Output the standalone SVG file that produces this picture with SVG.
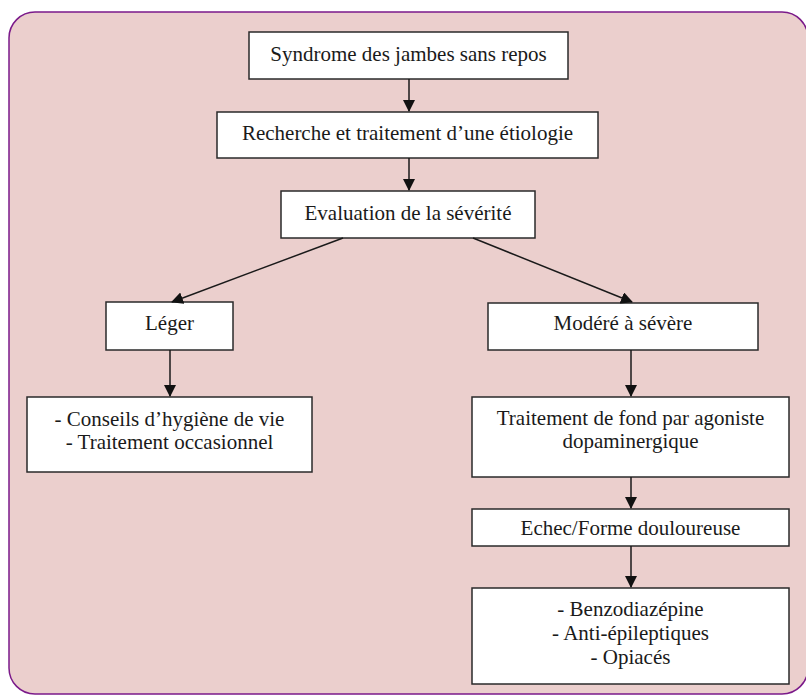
<svg xmlns="http://www.w3.org/2000/svg" width="806" height="695" viewBox="0 0 806 695">
<style>
.box{fill:#fff;stroke:#2a2a2a;stroke-width:1.5}
.t{font-family:"Liberation Serif","Times New Roman",serif;font-size:21px;fill:#1a1a1a;text-anchor:middle}
.c{stroke:#1a1a1a;stroke-width:1.5;fill:none;marker-end:url(#ah)}
</style>
<defs>
<marker id="ah" markerWidth="12" markerHeight="12" refX="11" refY="6" orient="auto" markerUnits="userSpaceOnUse">
<path d="M0,0 L12,6 L0,12 Z" fill="#111"/>
</marker>
</defs>
<rect x="9" y="12" width="799" height="682" rx="26" ry="26" fill="#EBCFCD" stroke="#7B1A8A" stroke-width="1.5"/>
<g id="n1"><rect class="box" x="249" y="32" width="319" height="47"/><text class="t" x="408.5" y="61">Syndrome des jambes sans repos</text></g>
<g id="n2"><rect class="box" x="217" y="112" width="381" height="46"/><text class="t" x="407.5" y="140">Recherche et traitement d’une étiologie</text></g>
<g id="n3"><rect class="box" x="281" y="191" width="254" height="47"/><text class="t" x="408" y="220">Evaluation de la sévérité</text></g>
<g id="n4"><rect class="box" x="106" y="302" width="127" height="48"/><text class="t" x="169.5" y="330">Léger</text></g>
<g id="n5"><rect class="box" x="27" y="397" width="285" height="75"/><text class="t" x="169.5" y="426">- Conseils d’hygiène de vie</text><text class="t" x="169.5" y="449">- Traitement occasionnel</text></g>
<g id="n6"><rect class="box" x="488" y="303" width="270" height="47"/><text class="t" x="623" y="330">Modéré à sévère</text></g>
<g id="n7"><rect class="box" x="472" y="397" width="317" height="80"/><text class="t" x="630.5" y="425">Traitement de fond par agoniste</text><text class="t" x="630.5" y="448">dopaminergique</text></g>
<g id="n8"><rect class="box" x="472" y="509" width="317" height="37"/><text class="t" x="630.5" y="535">Echec/Forme douloureuse</text></g>
<g id="n9"><rect class="box" x="472" y="588" width="317" height="96"/><text class="t" x="630.5" y="616">- Benzodiazépine</text><text class="t" x="630.5" y="640">- Anti-épileptiques</text><text class="t" x="630.5" y="664">- Opiacés</text></g>
<g id="connectors">
<line class="c" x1="409" y1="79" x2="409" y2="111"/>
<line class="c" x1="409" y1="158" x2="409" y2="190"/>
<line class="c" x1="343" y1="238" x2="172" y2="302"/>
<line class="c" x1="473" y1="238" x2="632" y2="302"/>
<line class="c" x1="170" y1="350" x2="170" y2="396"/>
<line class="c" x1="631" y1="350" x2="631" y2="396"/>
<line class="c" x1="631" y1="477" x2="631" y2="508"/>
<line class="c" x1="631" y1="546" x2="631" y2="587"/>
</g>
</svg>
